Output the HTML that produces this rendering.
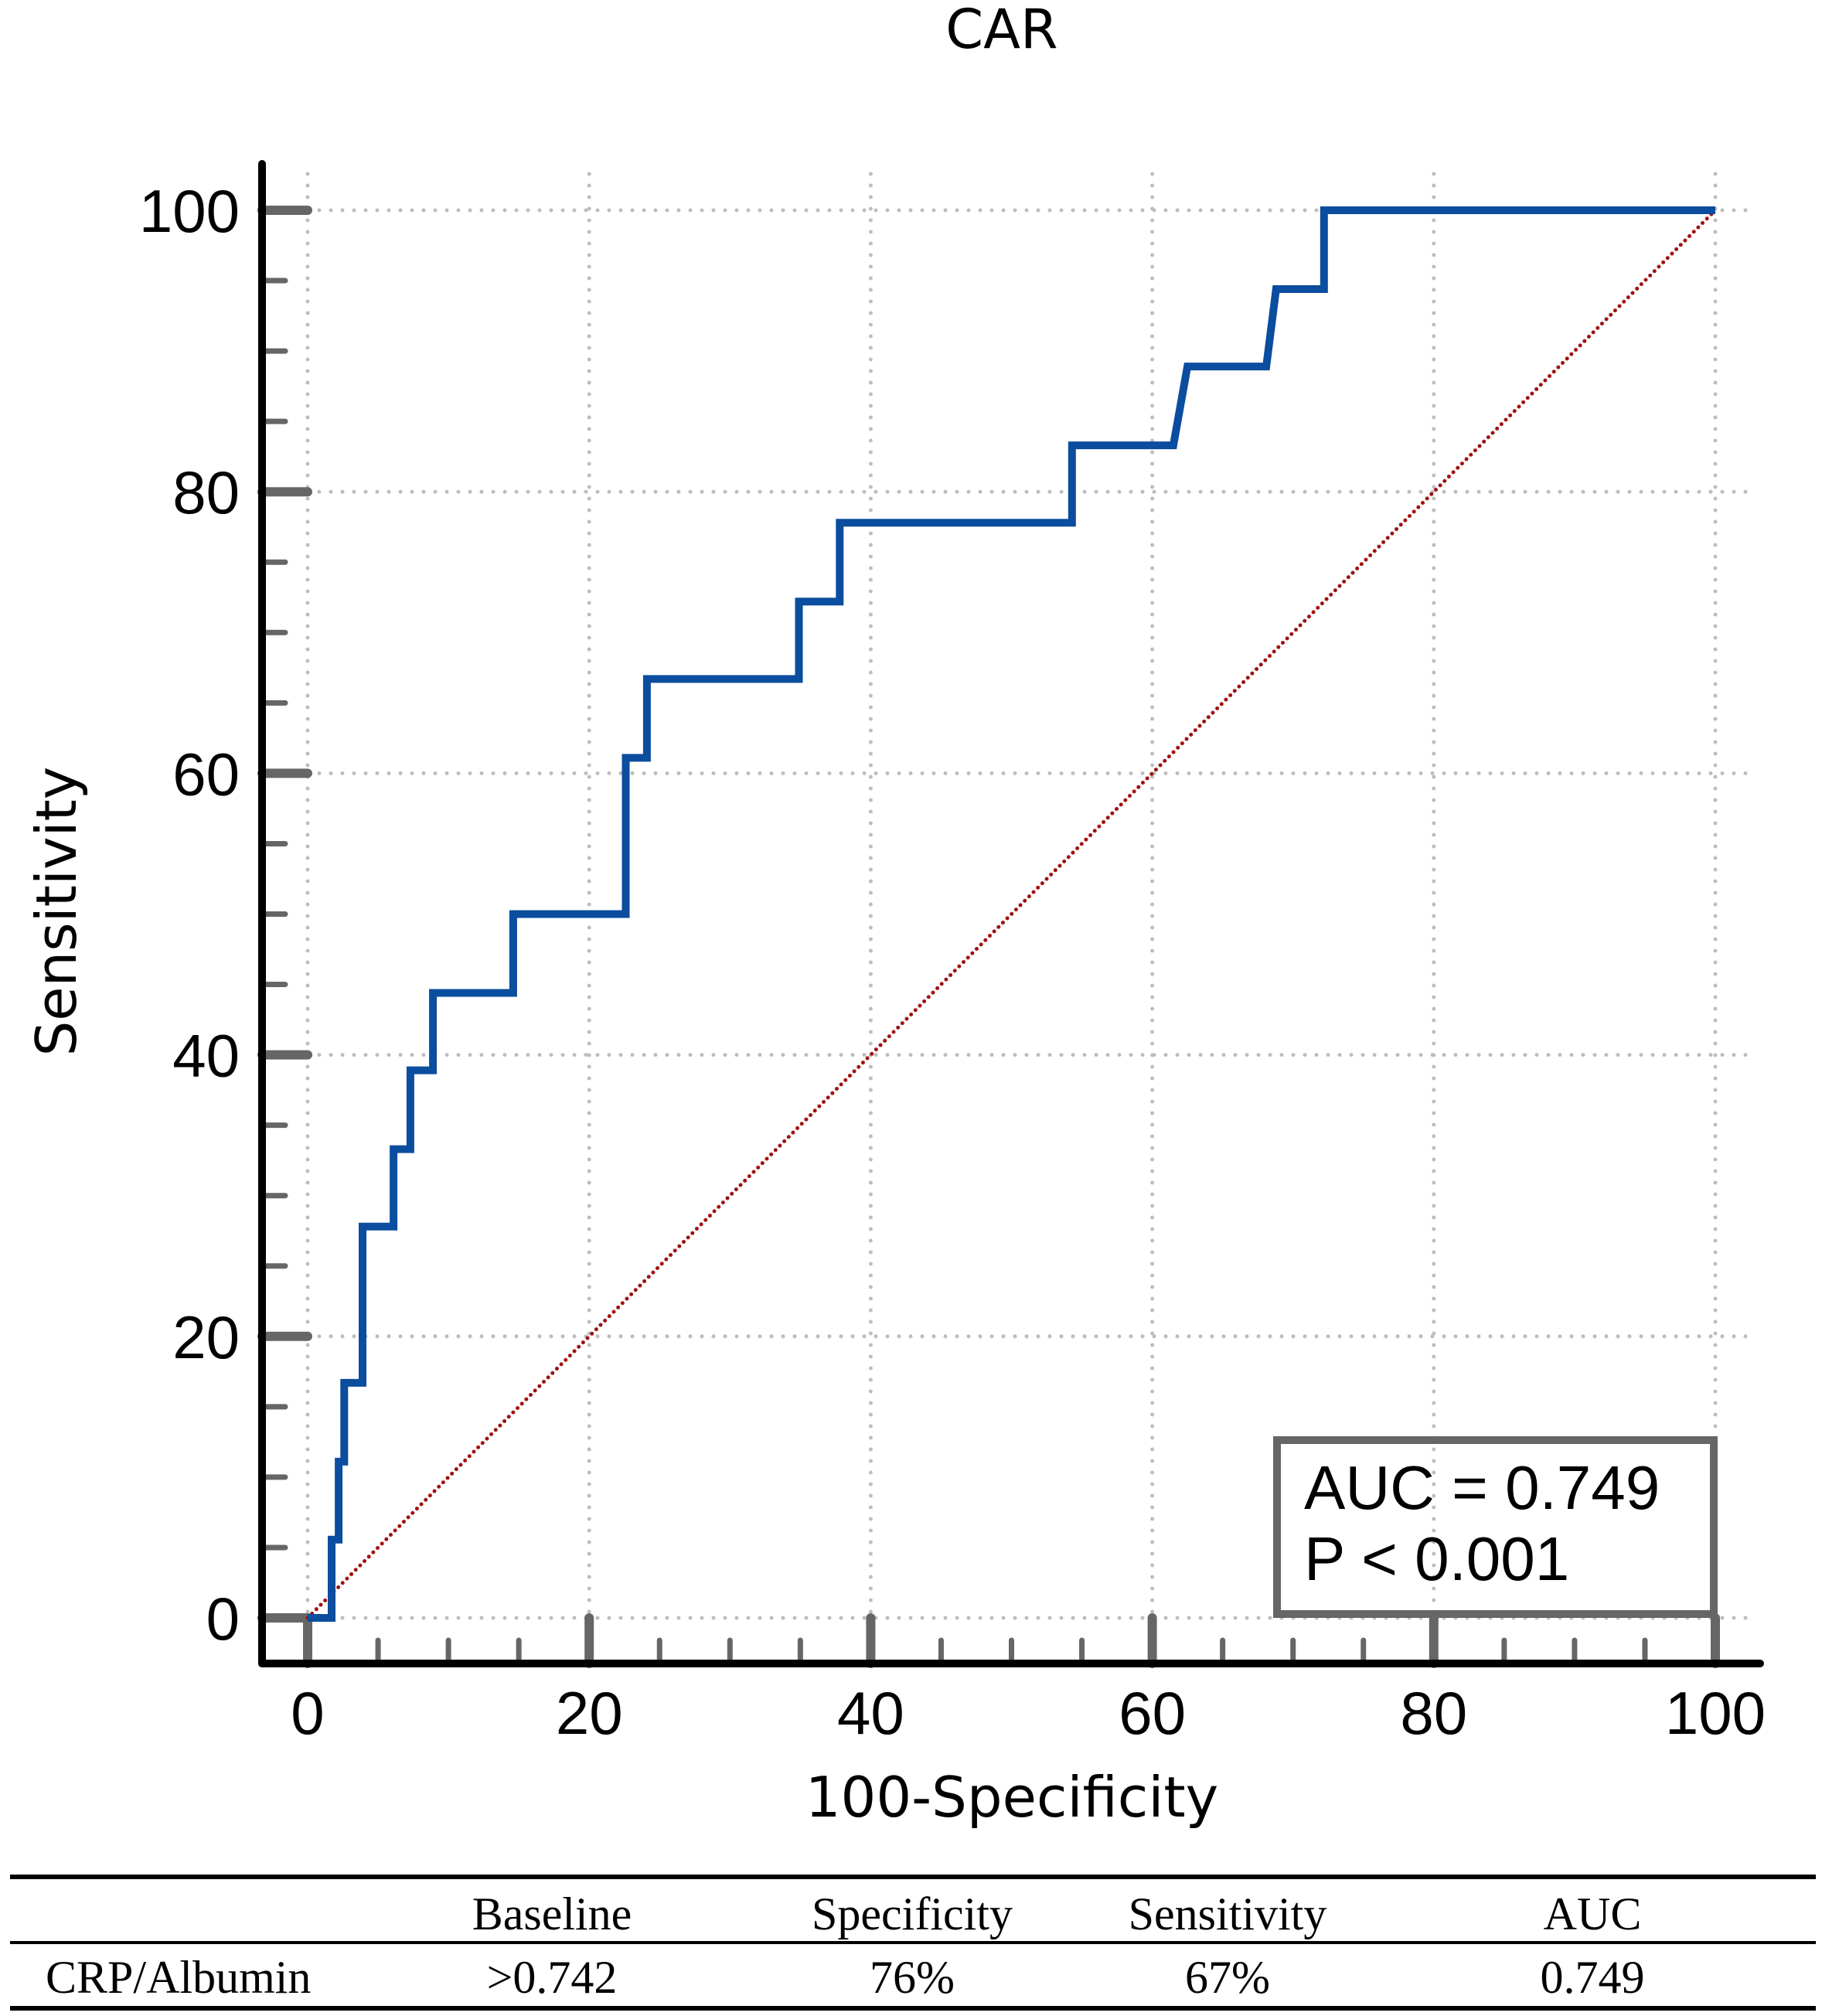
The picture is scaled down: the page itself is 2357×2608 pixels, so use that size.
<!DOCTYPE html>
<html><head><meta charset="utf-8"><style>
html,body{margin:0;padding:0;background:#fff;}
svg{display:block;}
</style></head><body>
<svg id="chart" width="2357" height="2608" viewBox="0 0 2357 2608" xmlns="http://www.w3.org/2000/svg">
<text x="1296" y="62" font-family="DejaVu Sans, Liberation Sans, sans-serif" font-size="70" text-anchor="middle">CAR</text>
<g id="grid"></g>
<g id="ticks"></g>
<line x1="339" y1="212" x2="339" y2="2152" stroke="#000" stroke-width="10" stroke-linecap="round"/>
<line x1="339" y1="2152" x2="2277" y2="2152" stroke="#000" stroke-width="10" stroke-linecap="round"/>
<g id="marks"></g>
<rect x="1652" y="1863" width="565" height="225" fill="none" stroke="#666" stroke-width="10"/>
<text x="1687" y="1952" font-family="Liberation Sans, sans-serif" font-size="80">AUC = 0.749</text>
<text x="1687" y="2044" font-family="Liberation Sans, sans-serif" font-size="80">P &lt; 0.001</text>
<text transform="translate(98,1179) rotate(-90)" font-family="DejaVu Sans, Liberation Sans, sans-serif" font-size="72" text-anchor="middle">Sensitivity</text>
<text x="1309" y="2350" font-family="DejaVu Sans, Liberation Sans, sans-serif" font-size="72" text-anchor="middle">100-Specificity</text>
<g font-family="Liberation Serif, serif" font-size="60">
<line x1="13" y1="2428" x2="2349" y2="2428" stroke="#000" stroke-width="6"/>
<line x1="13" y1="2513" x2="2349" y2="2513" stroke="#000" stroke-width="4"/>
<line x1="13" y1="2598" x2="2349" y2="2598" stroke="#000" stroke-width="6"/>
<text x="714" y="2496" text-anchor="middle">Baseline</text>
<text x="1180" y="2496" text-anchor="middle">Specificity</text>
<text x="1588" y="2496" text-anchor="middle">Sensitivity</text>
<text x="2060" y="2496" text-anchor="middle">AUC</text>
<text x="59" y="2578">CRP/Albumin</text>
<text x="714" y="2578" text-anchor="middle">&gt;0.742</text>
<text x="1180" y="2578" text-anchor="middle">76%</text>
<text x="1588" y="2578" text-anchor="middle">67%</text>
<text x="2060" y="2578" text-anchor="middle">0.749</text>
</g>
</svg>
<script>
const rocX = [0,1.7,1.7,2.2,2.2,2.6,2.6,3.9,3.9,6.1,6.1,7.3,7.3,8.9,8.9,14.6,14.6,22.6,22.6,24.1,24.1,34.9,34.9,37.8,37.8,54.3,54.3,61.5,62.5,68.1,68.8,72.2,72.2,100];
const rocY = [0,0,5.56,5.56,11.1,11.1,16.7,16.7,27.8,27.8,33.3,33.3,38.9,38.9,44.4,44.4,50,50,61.1,61.1,66.7,66.7,72.2,72.2,77.8,77.8,83.3,83.3,88.9,88.9,94.4,94.4,100,100];
const majorTicks = [0,20,40,60,80,100];
const tickLabels = ["0","20","40","60","80","100"];
const minorTicks = [5,10,15,25,30,35,45,50,55,65,70,75,85,90,95];

const NS = "http://www.w3.org/2000/svg";
const sx = v => 398 + v * 18.21;
const sy = v => 2093 - v * 18.21;
function mk(tag, attrs, parent){const e=document.createElementNS(NS,tag);for(const k in attrs)e.setAttribute(k,attrs[k]);parent.appendChild(e);return e;}
const grid=document.getElementById('grid'), ticks=document.getElementById('ticks'), marks=document.getElementById('marks'), svg=document.getElementById('chart');
majorTicks.forEach((t,i)=>{
  let g=mk('line',{x1:sx(t),y1:225,x2:sx(t),y2:sy(0),stroke:'#bdbdbd','stroke-width':5,'stroke-dasharray':'0 15','stroke-linecap':'round'},grid);
  
  
  g=mk('line',{x1:sx(0),y1:sy(t),x2:2272,y2:sy(t),stroke:'#bdbdbd','stroke-width':5,'stroke-dasharray':'0 15','stroke-linecap':'round'},grid);
  
  
  let k=mk('line',{x1:339,y1:sy(t),x2:sx(0),y2:sy(t),stroke:'#666','stroke-width':12,'stroke-linecap':'round'},ticks);
  
  
  k=mk('line',{x1:sx(t),y1:2152,x2:sx(t),y2:sy(0),stroke:'#666','stroke-width':12,'stroke-linecap':'round'},ticks);
  
  
  let l=mk('text',{x:310,y:sy(t)+28,'text-anchor':'end','font-family':'Liberation Sans, sans-serif','font-size':78},svg);
  l.textContent=tickLabels[i];
  
  
  l=mk('text',{x:sx(t),y:2243,'text-anchor':'middle','font-family':'Liberation Sans, sans-serif','font-size':78},svg);
  l.textContent=tickLabels[i];
  
  
});
minorTicks.forEach(t=>{
  let k=mk('line',{x1:339,y1:sy(t),x2:369,y2:sy(t),stroke:'#666','stroke-width':7,'stroke-linecap':'round'},ticks);
  
  
  k=mk('line',{x1:sx(t),y1:2152,x2:sx(t),y2:2122,stroke:'#666','stroke-width':7,'stroke-linecap':'round'},ticks);
  
  
});
const diag=mk('line',{x1:sx(0),y1:sy(0),x2:sx(100),y2:sy(100),stroke:'#a01010','stroke-width':5,'stroke-dasharray':'0 8','stroke-linecap':'round'},marks);


const d=rocX.map((x,i)=>(i?'L':'M')+sx(x).toFixed(1)+','+sy(rocY[i]).toFixed(1)).join(' ');
const roc=mk('path',{d:d,fill:'none',stroke:'#0b4d9e','stroke-width':10,'stroke-linejoin':'miter'},marks);


</script>
</body></html>
